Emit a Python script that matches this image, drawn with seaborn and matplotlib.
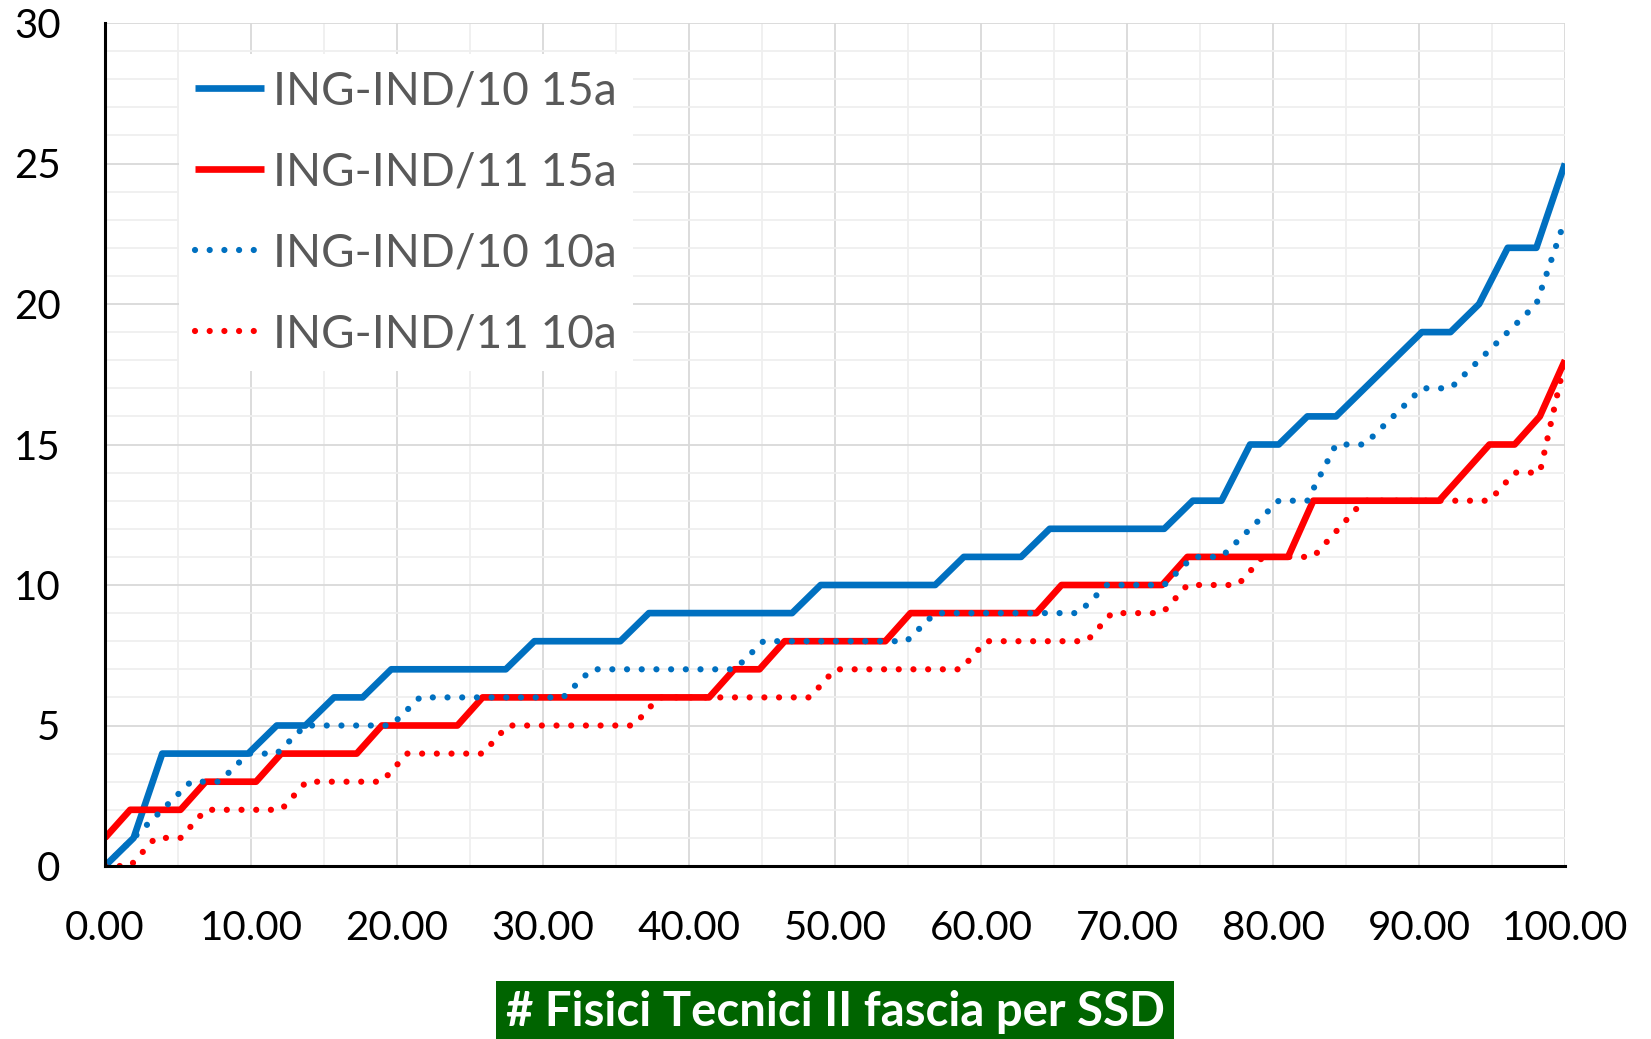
import numpy as np
import pandas as pd
import matplotlib
matplotlib.use("Agg")
import matplotlib.pyplot as plt
from matplotlib.ticker import MultipleLocator, FormatStrFormatter
import seaborn as sns

# Number of items per person, sorted, for each SSD and time window
series_names = ["ING-IND/10 15a", "ING-IND/11 15a", "ING-IND/10 10a", "ING-IND/11 10a"]

ind10_15a = [0, 1, 4, 4, 4, 4, 5, 5, 6, 6,
             7, 7, 7, 7, 7, 8, 8, 8, 8, 9,
             9, 9, 9, 9, 9, 10, 10, 10, 10, 10,
             11, 11, 11, 12, 12, 12, 12, 12, 13, 13,
             15, 15, 16, 16, 17, 18, 19, 19, 20, 22,
             22, 25]

ind11_15a = [1, 2, 2, 2, 3, 3, 3, 4, 4, 4,
             4, 5, 5, 5, 5, 6, 6, 6, 6, 6,
             6, 6, 6, 6, 6, 7, 7, 8, 8, 8,
             8, 8, 9, 9, 9, 9, 9, 9, 10, 10,
             10, 10, 10, 11, 11, 11, 11, 11, 13, 13,
             13, 13, 13, 13, 14, 15, 15, 16, 18]

ind10_10a = [0, 1, 2, 3, 3, 4, 4, 5, 5, 5,
             5, 6, 6, 6, 6, 6, 6, 7, 7, 7,
             7, 7, 7, 8, 8, 8, 8, 8, 8, 9,
             9, 9, 9, 9, 9, 10, 10, 10, 11, 11,
             12, 13, 13, 15, 15, 16, 17, 17, 18, 19,
             20, 23]

ind11_10a = [0, 0, 1, 1, 2, 2, 2, 2, 3, 3,
             3, 3, 4, 4, 4, 4, 5, 5, 5, 5,
             5, 5, 6, 6, 6, 6, 6, 6, 6, 7,
             7, 7, 7, 7, 7, 8, 8, 8, 8, 8,
             9, 9, 9, 10, 10, 10, 11, 11, 11, 12,
             13, 13, 13, 13, 13, 13, 14, 14, 18]

x_ticks = [0, 10, 20, 30, 40, 50, 60, 70, 80, 90, 100]
y_ticks = [0, 5, 10, 15, 20, 25, 30]

# x = percentile rank of each person inside the SSD
frames = []
for name, vals in zip(series_names, [ind10_15a, ind11_15a, ind10_10a, ind11_10a]):
    frames.append(pd.DataFrame({
        "x": np.linspace(0, 100, len(vals)),
        "y": vals,
        "series": name,
    }))
df = pd.concat(frames, ignore_index=True)

BLUE = "#0070C0"
RED = "#FF0000"
palette = {series_names[0]: BLUE, series_names[1]: RED,
           series_names[2]: BLUE, series_names[3]: RED}
dashes = {series_names[0]: "", series_names[1]: "",
          series_names[2]: (0.001, 2.35), series_names[3]: (0.001, 2.35)}
sizes = {series_names[0]: 4.8, series_names[1]: 4.8,
         series_names[2]: 4.5, series_names[3]: 4.5}

sns.set_theme(style="white")
plt.rcParams["font.family"] = ["Lato", "DejaVu Sans"]
plt.rcParams["lines.dash_capstyle"] = "round"
plt.rcParams["lines.solid_capstyle"] = "butt"
plt.rcParams["lines.solid_joinstyle"] = "round"

W, H = 1651, 1039
fig = plt.figure(figsize=(W / 100, H / 100), dpi=100)
ax = fig.add_axes([105 / W, 1 - 866 / H, 1460 / W, 843 / H])

sns.lineplot(data=df, x="x", y="y", hue="series", style="series", size="series",
             hue_order=series_names, style_order=series_names, size_order=series_names,
             palette=palette, dashes=dashes, sizes=sizes,
             estimator=None, sort=False, legend=False, ax=ax)

ax.set_xlim(0, 100)
ax.set_ylim(0, 30)
ax.set_xticks(x_ticks)
ax.set_yticks(y_ticks)
ax.xaxis.set_minor_locator(MultipleLocator(5))
ax.yaxis.set_minor_locator(MultipleLocator(1))
ax.xaxis.set_major_formatter(FormatStrFormatter("%.2f"))

ax.set_axisbelow(True)
ax.grid(which="major", color="#d9d9d9", linewidth=1.3)
ax.grid(which="minor", color="#efefef", linewidth=1.3)

for side in ("top", "right"):
    ax.spines[side].set_visible(False)
for side in ("left", "bottom"):
    ax.spines[side].set_color("black")
    ax.spines[side].set_linewidth(2.2)

ax.tick_params(axis="x", which="both", direction="in", length=11.5, width=1.6,
               color="black", labelsize=29, pad=32, labelcolor="black")
ax.tick_params(axis="y", which="major", direction="in", length=11, width=1.6,
               color="black", labelsize=29, pad=32, labelcolor="black")
ax.tick_params(axis="y", which="minor", direction="in", length=8.5, width=1.6,
               color="black")
ax.set_ylabel("")

ax.set_xlabel("# Fisici Tecnici II fascia per SSD", fontsize=34, fontweight="bold",
              color="white", labelpad=31,
              bbox=dict(boxstyle="square,pad=0.2", fc="#006400", ec="none"))

leg = ax.legend(ax.lines[:4], series_names, loc="upper left",
                bbox_to_anchor=(0.0507, 0.9627), borderaxespad=0,
                frameon=True, facecolor="white", edgecolor="none", framealpha=1,
                fancybox=False, fontsize=33, handlelength=1.5, handletextpad=0.2,
                labelspacing=0.85, borderpad=0.35)
for t in leg.get_texts():
    t.set_color("#595959")

fig.savefig("out.png", dpi=100, facecolor="white")
